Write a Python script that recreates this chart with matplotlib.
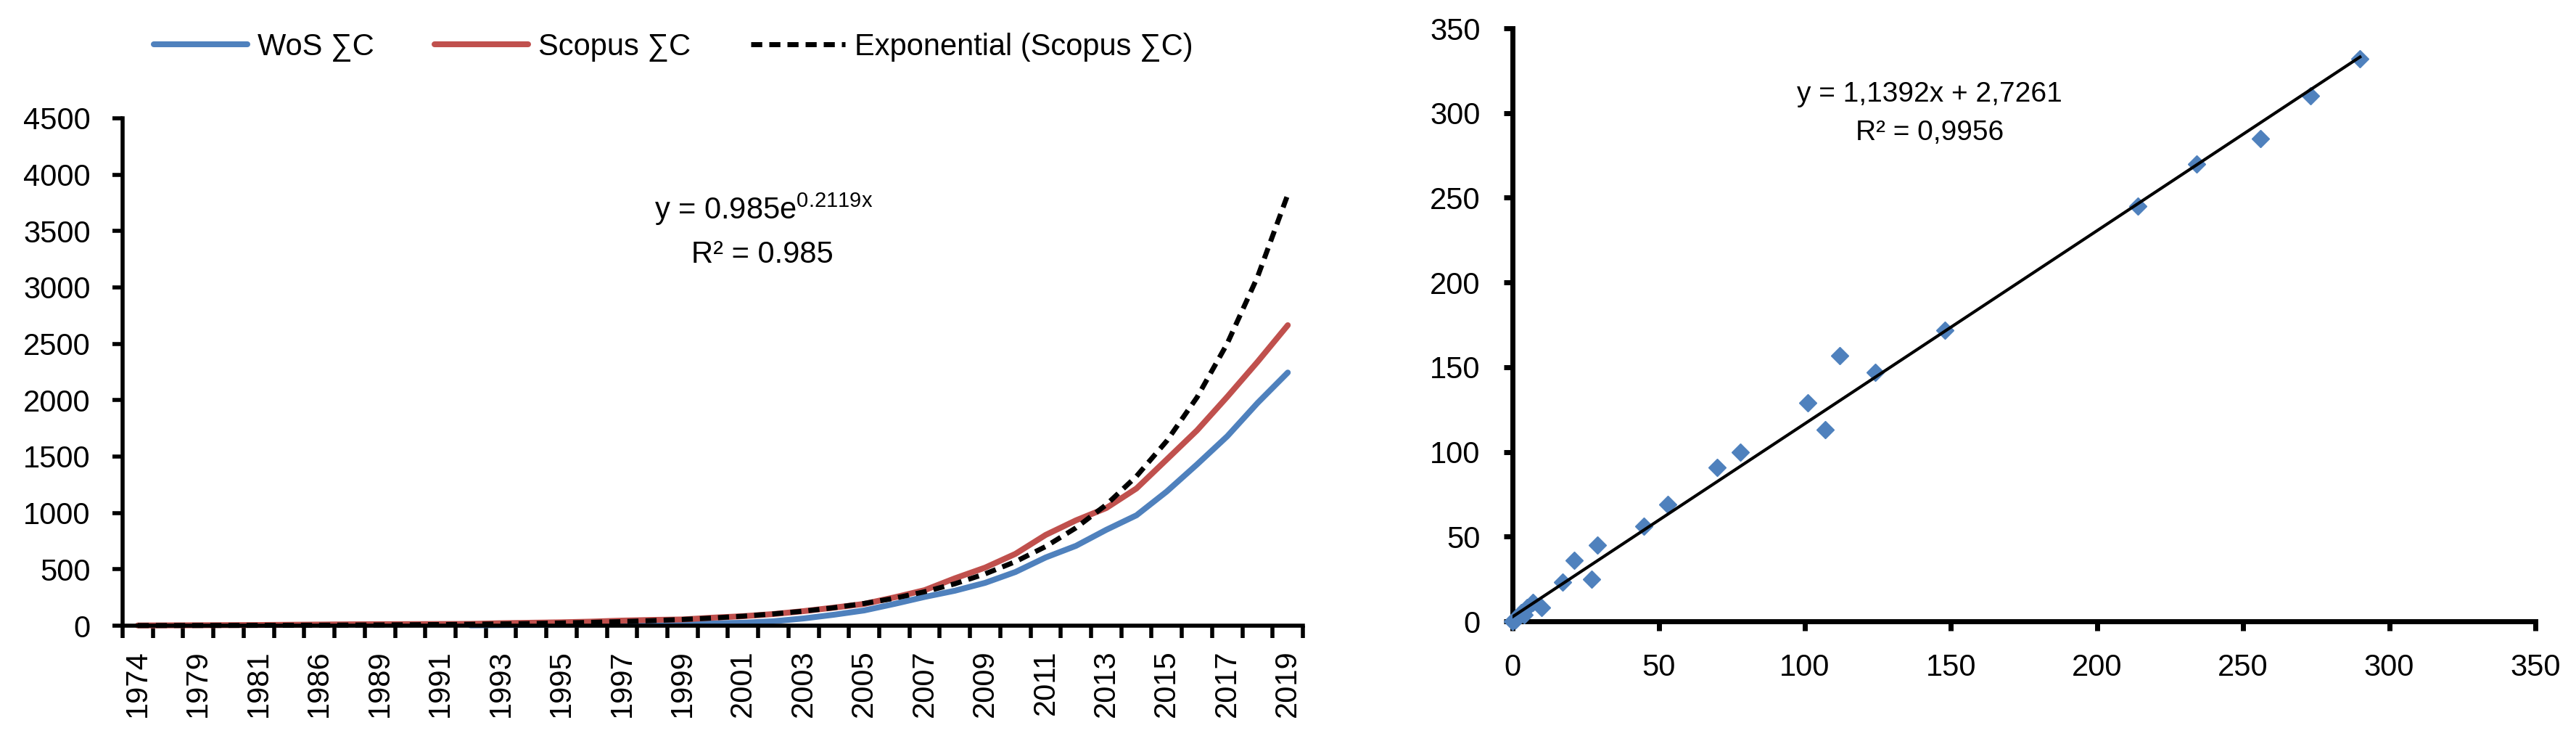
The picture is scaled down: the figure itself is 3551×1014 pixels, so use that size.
import matplotlib.pyplot as plt
import numpy as np

plt.rcParams['font.family'] = ['Liberation Sans', 'DejaVu Sans']
plt.rcParams['mathtext.fontset'] = 'custom'
plt.rcParams['mathtext.rm'] = 'Liberation Sans'
plt.rcParams['mathtext.it'] = 'Liberation Sans:italic'

# left chart: cumulative citations per year
years = [1974, 1977, 1979, 1980, 1981, 1983, 1986, 1988, 1989, 1990,
         1991, 1992, 1993, 1994, 1995, 1996, 1997, 1998, 1999, 2000,
         2001, 2002, 2003, 2004, 2005, 2006, 2007, 2008, 2009, 2010,
         2011, 2012, 2013, 2014, 2015, 2016, 2017, 2018, 2019]
wos_sum = [np.nan] * 11 + [3, 5, 7, 9, 11, 13, 15, 18, 21, 26, 39, 64, 97, 135,
                           193, 255, 310, 380, 476, 605, 708, 850, 979, 1190,
                           1430, 1680, 1975, 2245]
scopus_sum = [2, 3, 4, 5, 6, 8, 10, 12, 13, 14, 15, 16, 22, 26, 30, 36, 45, 51,
              55, 71, 84, 103, 129, 160, 193, 251, 315, 420, 515, 637, 805, 934,
              1043, 1217, 1474, 1732, 2030, 2340, 2665]
exp_a = 0.985
exp_b = 0.2119

# right chart: WoS vs Scopus scatter
sc_x = [0, 1, 2, 3, 4, 5, 7, 10, 17, 21, 27, 29, 45, 53, 70, 78, 101, 107,
        112, 124, 148, 214, 234, 256, 273, 290]
sc_y = [0, 1, 3, 5, 4, 8, 11, 8, 23, 36, 25, 45, 56, 69, 91, 100, 129, 113,
        157, 147, 172, 245, 270, 285, 310, 332]
lin_slope = 1.1392
lin_icpt = 2.7261

blue = '#4F81BD'
red = '#C0504D'

fig = plt.figure(figsize=(35.51, 10.14), dpi=100)
ax1 = fig.add_axes([0.0476, 0.1499, 0.4582, 0.6894])
ax2 = fig.add_axes([0.5872, 0.1558, 0.3970, 0.8057])

idx = np.arange(len(years))
l1, = ax1.plot(idx, wos_sum, color=blue, lw=5.8, solid_capstyle='round', clip_on=False, label='WoS ∑C')
l2, = ax1.plot(idx, scopus_sum, color=red, lw=5.8, solid_capstyle='round', clip_on=False, label='Scopus ∑C')
trend = exp_a * np.exp(exp_b * (idx + 1))
l3, = ax1.plot(idx, trend, color='black', lw=5, ls=(0, (2.2, 1.4)), clip_on=False,
               label='Exponential (Scopus ∑C)')

ax1.set_xlim(-0.5, len(years) - 0.5)
ax1.set_ylim(0, 4500)
ax1.set_yticks(range(0, 4501, 500))
for s in ['top', 'right']:
    ax1.spines[s].set_visible(False)
for s in ['left', 'bottom']:
    ax1.spines[s].set_linewidth(4)
ax1.set_xticks(np.arange(-0.5, len(years), 1))
ax1.set_xticklabels([])
ax1.tick_params(axis='x', which='major', length=12, width=4)
ax1.set_xticks(idx[::2], minor=True)
ax1.set_xticklabels([str(y) for y in years[::2]], minor=True, rotation=90, fontsize=30)
ax1.tick_params(axis='x', which='minor', length=0, pad=24)
ax1.tick_params(axis='y', length=10, width=4, pad=22, labelsize=30)

fig.legend([l1, l2, l3], [l1.get_label(), l2.get_label(), l3.get_label()],
           loc='center left', bbox_to_anchor=(0.0597, 0.936), ncol=3, frameon=False,
           fontsize=30, handlelength=3.1, handletextpad=0.33, columnspacing=2.0,
           borderpad=0, borderaxespad=0)

fig.text(1053 / 3551, 0.702, r'y = 0.985e$^{\mathrm{0.2119x}}$', ha='center', va='baseline', fontsize=30)
fig.text(1051 / 3551, 0.643, 'R² = 0.985', ha='center', va='baseline', fontsize=30)

# scatter
ax2.plot(sc_x, sc_y, 'D', color=blue, ms=12, ls='none', clip_on=False, zorder=3)
xfit = np.array([min(sc_x), max(sc_x)])
ax2.plot(xfit, lin_slope * xfit + lin_icpt, color='black', lw=3, zorder=4)
ax2.set_xlim(0, 350)
ax2.set_ylim(0, 350)
ax2.set_xticks(range(0, 351, 50))
ax2.set_yticks(range(0, 351, 50))
for s in ['top', 'right']:
    ax2.spines[s].set_visible(False)
for s in ['left', 'bottom']:
    ax2.spines[s].set_linewidth(5)
ax2.tick_params(length=9, width=5, pad=23, labelsize=30)

fig.text(0.749, 0.862, 'y = 1,1392x + 2,7261', ha='center', va='baseline', fontsize=28)
fig.text(0.749, 0.810, 'R² = 0,9956', ha='center', va='baseline', fontsize=28)

fig.savefig('out.png', dpi=100)
